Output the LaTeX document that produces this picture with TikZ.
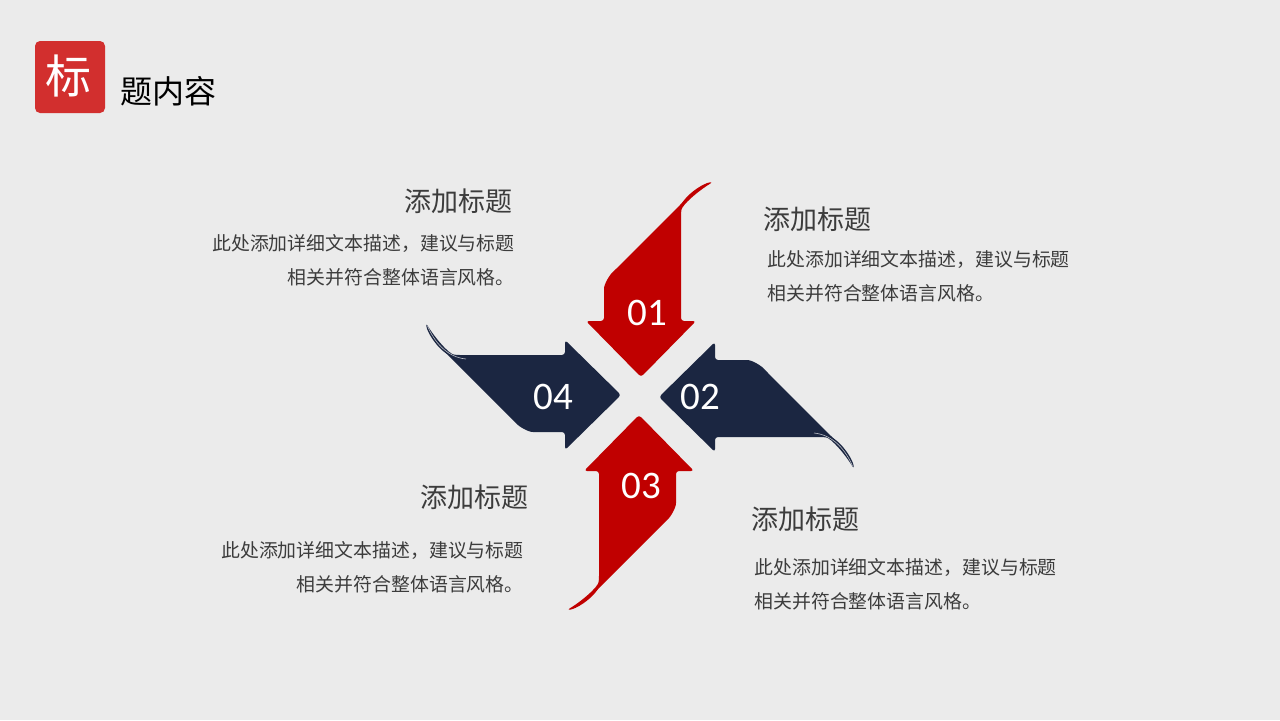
\documentclass[tikz,border=0pt]{standalone}
\usepackage{fontspec}
\setmainfont{Carlito}
\newfontfamily\cjk{Noto Sans CJK SC}
\newfontfamily\numfont{Carlito}
\definecolor{bgc}{HTML}{EBEBEB}
\definecolor{redarrow}{HTML}{C00000}
\definecolor{navyarrow}{HTML}{1B2641}
\definecolor{titlered}{HTML}{D22F2E}
\definecolor{txtgray}{HTML}{3C3C3C}
\newcommand\pinarrowpath{(1,-19) -- (56,-75) -- (41,-75) -- (41,-183) .. controls (42,-191) and (58,-205) .. (73,-214) .. controls (64,-213) and (50,-204) .. (42,-193) -- (-25,-126) .. controls (-30.5,-121) and (-36,-112) .. (-36,-104) -- (-36,-75) -- (-54,-75) -- cycle}
\newcommand\pinhighlight{(70,-212.5) .. controls (55,-206) and (39,-194) .. (37,-174)}
\tikzset{
  headtxt/.style={font=\cjk\fontsize{13.5}{16}\selectfont, text=txtgray, inner sep=0pt},
  bodytxt/.style={font=\cjk\fontsize{9.45}{17}\selectfont, text=txtgray, inner sep=0pt},
  numtxt/.style={font=\numfont\fontsize{19.5}{20}\selectfont, text=white, inner sep=0pt},
  arrowshape/.style={rounded corners=1.5pt},
  foldline/.style={white, opacity=0.7, line width=0.3pt}
}
\begin{document}
\begin{tikzpicture}[x=0.5pt,y=-0.5pt]
\useasboundingbox (0,0) rectangle (1280,720);
\fill[bgc] (0,0) rectangle (1280,720);

% title
\fill[titlered, rounded corners=2.5pt] (35,41) rectangle (105,113);
\node[font=\cjk\fontsize{23}{24}\selectfont, text=white, inner sep=0pt] (tmark) at (69,76) {标};
\node[font=\cjk\fontsize{16}{18}\selectfont, text=black, inner sep=0pt, anchor=west] (ttext) at (120,91) {题内容};

% pinwheel arrows
\begin{scope}[shift={(640,396)}]
  \fill[redarrow, arrowshape] \pinarrowpath;
\end{scope}
\begin{scope}[shift={(640,396)}, rotate=90]
  \fill[navyarrow, arrowshape] \pinarrowpath;
  \draw[foldline] \pinhighlight;
\end{scope}
\begin{scope}[shift={(640,396)}, rotate=180]
  \fill[redarrow, arrowshape] \pinarrowpath;
\end{scope}
\begin{scope}[shift={(640,396)}, rotate=270]
  \fill[navyarrow, arrowshape] \pinarrowpath;
  \draw[foldline] \pinhighlight;
\end{scope}

% numbers
\node[numtxt] (n1) at (647,313) {01};
\node[numtxt] (n2) at (700,397) {02};
\node[numtxt] (n3) at (641,486) {03};
\node[numtxt] (n4) at (553,397) {04};

% text blocks
\node[headtxt, anchor=east] (h1) at (513,201) {添加标题};
\node[bodytxt, anchor=east, align=right] (b1) at (515,260) {此处添加详细文本描述，建议与标题\\相关并符合整体语言风格。};

\node[headtxt, anchor=west] (h2) at (763,219) {添加标题};
\node[bodytxt, anchor=west, align=left] (b2) at (767,276) {此处添加详细文本描述，建议与标题\\相关并符合整体语言风格。};

\node[headtxt, anchor=east] (h3) at (529,497) {添加标题};
\node[bodytxt, anchor=east, align=right] (b3) at (524,567) {此处添加详细文本描述，建议与标题\\相关并符合整体语言风格。};

\node[headtxt, anchor=west] (h4) at (751,519) {添加标题};
\node[bodytxt, anchor=west, align=left] (b4) at (754,584) {此处添加详细文本描述，建议与标题\\相关并符合整体语言风格。};
\end{tikzpicture}
\end{document}
